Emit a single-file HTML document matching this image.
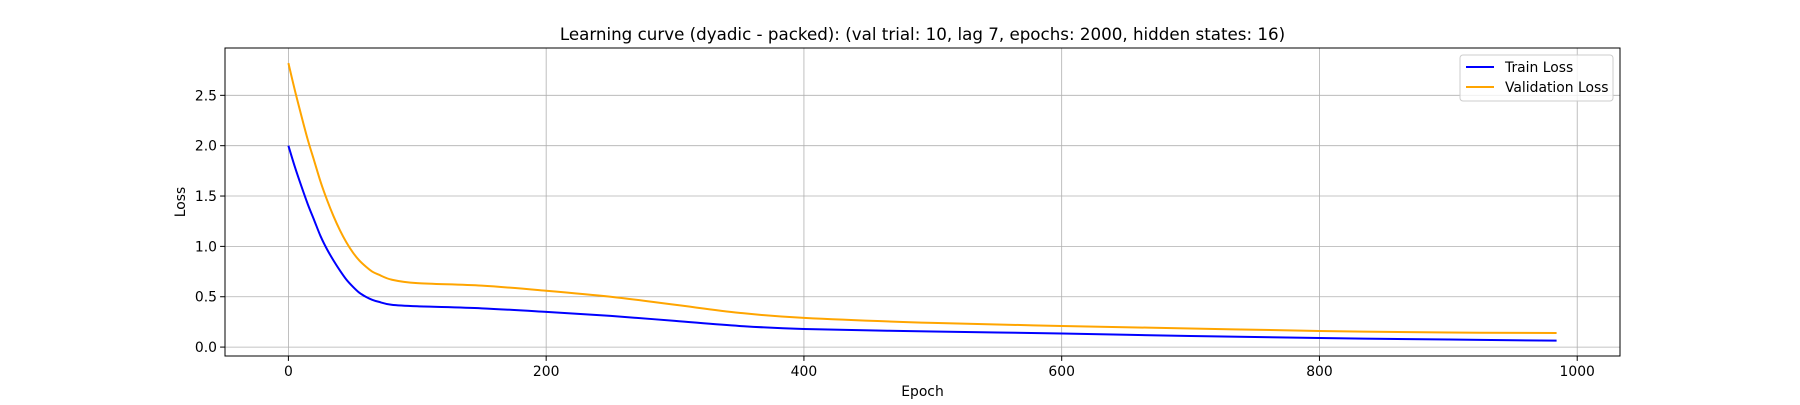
<!DOCTYPE html>
<html><head><meta charset="utf-8"><style>
body{margin:0;background:#fff}
svg text{font-family:"DejaVu Sans","Liberation Sans",sans-serif;fill:#000}
</style></head><body>
<svg width="1800" height="400" xmlns="http://www.w3.org/2000/svg">
<g id="grid"></g>
<g id="lines"></g>
<rect x="225" y="48" width="1395" height="308" fill="none" stroke="#000" stroke-width="1"/>
<g id="ticks"></g>
<text x="922.5" y="40" font-size="16.7" text-anchor="middle">Learning curve (dyadic - packed): (val trial: 10, lag 7, epochs: 2000, hidden states: 16)</text>
<text x="922.5" y="396" font-size="13.9" text-anchor="middle">Epoch</text>
<text transform="translate(185,202) rotate(-90)" font-size="13.9" text-anchor="middle">Loss</text>
<g>
<rect x="1460" y="55" width="153" height="46" rx="3" fill="#fff" fill-opacity="0.8" stroke="#ccc"/>
<line x1="1466" y1="67" x2="1494" y2="67" stroke="blue" stroke-width="2"/>
<text x="1505" y="72" font-size="13.9">Train Loss</text>
<line x1="1466" y1="87" x2="1494" y2="87" stroke="orange" stroke-width="2"/>
<text x="1505" y="92" font-size="13.9">Validation Loss</text>
</g>
</svg>
<script>
const epochs=[0,5,10,15,20,25,30,35,40,45,50,55,60,65,70,80,100,150,200,250,300,350,400,500,600,700,800,900,984];
const trainLoss=[2.0,1.79,1.6,1.42,1.26,1.1,0.97,0.86,0.76,0.67,0.6,0.54,0.5,0.47,0.45,0.42,0.405,0.385,0.35,0.31,0.26,0.21,0.18,0.155,0.135,0.11,0.09,0.075,0.064];
const valLoss=[2.82,2.55,2.3,2.06,1.85,1.64,1.46,1.3,1.16,1.04,0.94,0.86,0.8,0.75,0.72,0.67,0.635,0.61,0.56,0.5,0.42,0.34,0.29,0.24,0.21,0.185,0.16,0.145,0.14];
const xTicks=[0,200,400,600,800,1000];
const yTicks=[0.0,0.5,1.0,1.5,2.0,2.5];
const L=225,R=1620,T=48,B=356,x0=-49.2,x1=1033.2,y0=-0.0885,y1=2.97;
const X=v=>L+(v-x0)/(x1-x0)*(R-L), Y=v=>B-(v-y0)/(y1-y0)*(B-T);
const NS="http://www.w3.org/2000/svg";
function mk(t,a,p){const e=document.createElementNS(NS,t);for(const k in a)e.setAttribute(k,a[k]);p.appendChild(e);return e;}
const g=document.getElementById('grid'),tk=document.getElementById('ticks'),ln=document.getElementById('lines');
xTicks.forEach(v=>{const x=X(v);
 const gl=mk('line',{x1:x,x2:x,y1:T,y2:B,stroke:'#b0b0b0','stroke-width':0.8},g);
 
 mk('line',{x1:x,x2:x,y1:B,y2:B+4.9,stroke:'#000'},tk);
 const t=mk('text',{x:x,y:B+20,'font-size':13.9,'text-anchor':'middle'},tk);t.textContent=v;
 });
yTicks.forEach(v=>{const y=Y(v);
 const gl=mk('line',{x1:L,x2:R,y1:y,y2:y,stroke:'#b0b0b0','stroke-width':0.8},g);
 
 mk('line',{x1:L-4.9,x2:L,y1:y,y2:y,stroke:'#000'},tk);
 const t=mk('text',{x:L-8,y:y+5,'font-size':13.9,'text-anchor':'end'},tk);t.textContent=v.toFixed(1);
 });
function path(ys){const p=epochs.map((e,i)=>[X(e),Y(ys[i])]);let d='M'+p[0][0]+','+p[0][1];
 for(let i=0;i<p.length-1;i++){const a=p[i-1]||p[i],b=p[i],c=p[i+1],e=p[i+2]||c;
 d+=' C'+(b[0]+(c[0]-a[0])/6)+','+(b[1]+(c[1]-a[1])/6)+' '+(c[0]-(e[0]-b[0])/6)+','+(c[1]-(e[1]-b[1])/6)+' '+c[0]+','+c[1];}return d;}
const p1=mk('path',{d:path(trainLoss),fill:'none',stroke:'blue','stroke-width':2},ln);

const p2=mk('path',{d:path(valLoss),fill:'none',stroke:'orange','stroke-width':2},ln);

</script>
</body></html>
